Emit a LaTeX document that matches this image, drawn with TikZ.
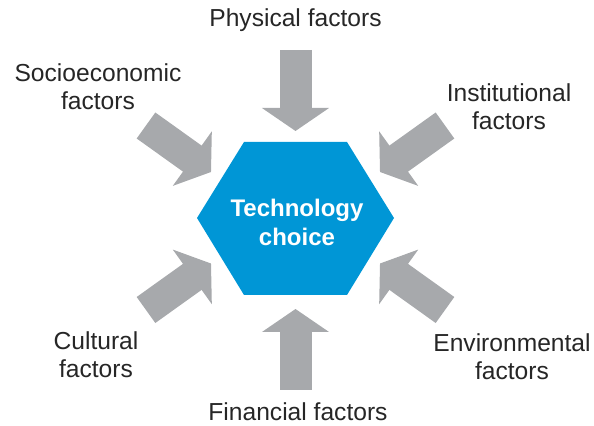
\documentclass[tikz,border=0pt]{standalone}
\usepackage{fontspec}
\setmainfont{Liberation Sans}
\usepackage{xcolor}
\usetikzlibrary{arrows.meta}
\definecolor{hexblue}{RGB}{0,150,214}
\definecolor{arrowgray}{RGB}{167,169,172}

\begin{document}
\begin{tikzpicture}[x=0.5pt, y=-0.5pt,
		factor/.style={align=center, font=\fontsize{12.3}{14}\selectfont, text=black!85},
		push/.style={draw=arrowgray, line width=16pt, -{Triangle[width=33pt, length=11.5pt]}}]
			\useasboundingbox (0, 0) rectangle (594, 426);
			\coordinate (center) at (295.5, 218);
			\fill[hexblue] (197, 218) -- (244, 142) -- (347, 142) -- (394, 218) -- (347, 295) -- (244, 295) -- cycle;
			\node (choice) at (297, 222) [align=center, text=white, font=\fontsize{12}{14.5}\selectfont\bfseries] {Technology\\choice};

			\node (physical) at (295.5, 20) [factor] {Physical factors};
			\node (socio) at (98, 87) [factor] {Socioeconomic\\factors};
			\node (institutional) at (509, 107) [factor] {Institutional\\factors};
			\node (cultural) at (96, 355) [factor] {Cultural\\factors};
			\node (environmental) at (512, 357) [factor] {Environmental\\factors};
			\node (financial) at (298, 412) [factor] {Financial factors};

			\coordinate (phystail) at (295.5, 50);
			\coordinate (phystip) at (295.5, 131);
			\coordinate (fintail) at (295.5, 390);
			\coordinate (fintip) at (295.5, 309);
			\coordinate (sociotail) at (146, 125.5);
			\coordinate (sociotip) at (211, 172);
			\coordinate (insttail) at (445, 125.5);
			\coordinate (insttip) at (380, 172);
			\coordinate (culttail) at (146, 310);
			\coordinate (culttip) at (211, 263.5);
			\coordinate (envtail) at (445, 310);
			\coordinate (envtip) at (380, 263.5);

			\draw[push] (phystail) -- (phystip);
			\draw[push] (fintail) -- (fintip);
			\draw[push] (sociotail) -- (sociotip);
			\draw[push] (insttail) -- (insttip);
			\draw[push] (culttail) -- (culttip);
			\draw[push] (envtail) -- (envtip);
		\end{tikzpicture}
\end{document}
